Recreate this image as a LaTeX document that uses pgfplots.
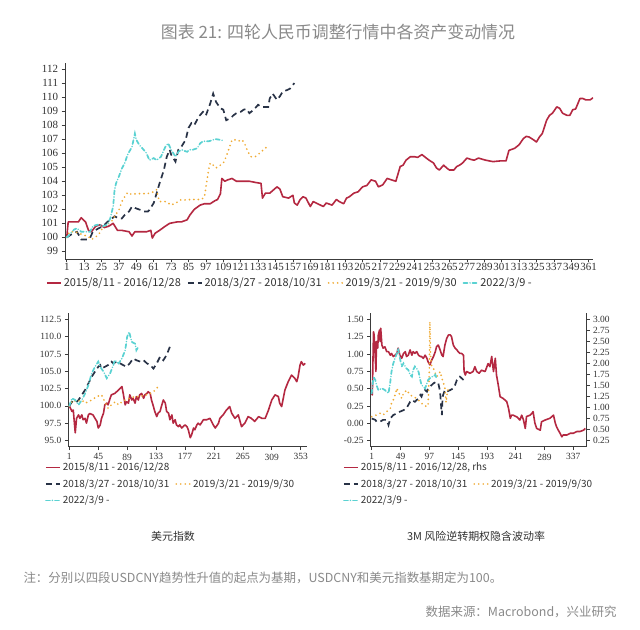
\documentclass[border=0pt]{standalone}
\usepackage{fontspec}
\setmainfont{Liberation Serif}
\newfontfamily\cjk{Noto Sans CJK SC}
\usepackage{pgfplots}
\pgfplotsset{compat=1.18}

\definecolor{usdred}{HTML}{B42841}
\definecolor{navy}{HTML}{283246}
\definecolor{gold}{HTML}{F0AA32}
\definecolor{cyanl}{HTML}{5AD2D2}
\definecolor{axisgray}{HTML}{3C3C3C}
\definecolor{notegray}{HTML}{8A8A8A}
\definecolor{txt}{HTML}{333333}

\tikzset{
  s15/.style={usdred, line width=1.6bp, line join=round},
  s18/.style={navy, line width=1.7bp, dash pattern=on 6bp off 4bp},
  s19/.style={gold, line width=1.9bp, line cap=round, dash pattern=on 0bp off 4.5bp},
  s22/.style={cyanl, line width=1.7bp, line cap=round, dash pattern=on 4bp off 2.5bp on 0bp off 2.5bp},
}

\pgfplotsset{
  base/.style={
    scale only axis,
    axis lines=left,
    axis line style={-, draw=axisgray, line width=0.7bp},
    tick align=outside,
    major tick length=3.5bp,
    tick style={axisgray, line width=0.7bp},
    /pgf/number format/assume math mode=true,
    tick label style={text=txt},
    legend cell align=left,
    legend image code/.code={\draw[##1] (0bp,0bp) -- (14bp,0bp);},
    legend style={draw=none, fill=none, inner sep=0pt, text=txt,
      /tikz/every even column/.append style={column sep=4bp}},
  },
}

\begin{document}
\begin{tikzpicture}[x=1bp,y=1bp]
\useasboundingbox (0,0) rectangle (640,630);
\fill[white] (0,0) rectangle (640,630);

\node[text=notegray, font=\cjk\fontsize{17}{20}\selectfont] at (338,598)
  {图表 21: 四轮人民币调整行情中各资产变动情况};

% ---- USDCNY
\begin{axis}[base,
  at={(65bp,371bp)}, anchor=south west, width=528bp, height=196bp,
  xmin=-0.2, xmax=364, ymin=98.46, ymax=112.43,
  xtick={1,13,...,361}, ytick={99,...,112},
  tick label style={font=\fontsize{11}{12}\selectfont},
  xticklabel style={inner sep=1pt},
  legend columns=4,
  legend style={at={(-0.036,-0.122)}, anchor=west,
    font=\cjk\fontsize{11}{13}\selectfont},
]
\addplot[s15] coordinates {
(1,100.0)(2,101.1)(6,101.1)(9,101.1)(11,101.4)(14,101.1)(16,100.5)(18,100.4)(21,100.8)(24,100.9)(27,100.7)(30,100.8)(33,101.0)(36,100.5)(39,100.5)(44,100.4)(46,100.1)(48,100.4)(52,100.4)(56,100.4)(59,100.5)(60,99.95)(62,100.3)(65,100.5)(69,100.8)(72,101.0)(77,101.1)(80,101.1)(84,101.25)(86,101.6)(89,102.0)(93,102.3)(96,102.4)(100,102.4)(103,102.6)(105,102.7)(107,103.1)(108,104.2)(110,104.0)(112,104.1)(115,104.2)(118,104.0)(123,104.0)(127,104.0)(132,103.9)(135,103.85)(136,102.8)(138,103.15)(141,103.15)(146,103.6)(148,103.45)(150,102.9)(154,102.8)(157,103.0)(158,102.45)(160,102.3)(162,102.7)(164,102.9)(166,102.8)(169,102.2)(171,102.55)(173,102.45)(176,102.3)(178,102.2)(180,102.45)(184,102.3)(187,102.7)(189,102.55)(192,102.4)(194,102.8)(196,102.9)(199,103.15)(202,103.25)(205,103.6)(208,103.7)(211,104.1)(214,104.0)(216,103.6)(219,103.75)(222,104.2)(225,104.1)(228,104.0)(231,105.05)(233,105.15)(235,105.5)(238,105.75)(241,105.75)(243,105.7)(246,105.9)(249,105.65)(251,105.5)(254,105.3)(256,104.95)(258,104.8)(261,105.15)(263,104.95)(265,104.8)(268,104.8)(270,105.05)(272,105.15)(274,105.3)(277,105.65)(280,105.55)(282,105.5)(285,105.65)(290,105.5)(295,105.4)(300,105.45)(304,105.45)(306,106.2)(310,106.35)(313,106.6)(316,107.05)(318,107.2)(320,107.15)(323,106.95)(325,106.8)(327,107.15)(329,107.4)(332,108.35)(334,108.7)(336,108.85)(339,109.3)(341,109.2)(343,108.85)(346,108.7)(348,108.7)(350,109.1)(352,109.15)(355,109.9)(357,109.9)(359,109.8)(362,109.8)(364,109.95)};
\addlegendentry{2015/8/11 - 2016/12/28}
\addplot[s18] coordinates {
(1,100.0)(4,100.2)(8,100.4)(10,100.05)(11,99.85)(15,99.85)(17,99.95)(19,100.4)(23,100.65)(26,100.8)(29,101.1)(31,101.25)(34,101.5)(37,101.35)(39,101.35)(41,101.6)(44,101.85)(46,102.2)(48,102.1)(52,101.95)(54,101.85)(57,101.85)(58,101.95)(61,102.45)(63,103.15)(65,103.85)(68,104.8)(70,105.75)(72,106.25)(73,105.9)(76,105.4)(78,106.25)(80,106.45)(83,106.95)(85,107.8)(87,108.15)(89,108.0)(92,108.6)(95,108.95)(97,108.7)(100,109.55)(102,110.25)(104,109.65)(107,109.2)(109,109.1)(111,108.35)(114,108.5)(116,108.7)(118,108.85)(121,108.95)(123,109.1)(125,109.15)(127,108.85)(130,109.1)(133,109.45)(135,109.3)(138,109.3)(140,109.3)(141,109.9)(143,110.25)(146,109.8)(148,110.05)(150,110.4)(153,110.5)(155,110.6)(158,111.0)};
\addlegendentry{2018/3/27 - 2018/10/31}
\addplot[s19] coordinates {
(1,100.0)(3,100.4)(7,100.4)(9,100.3)(12,100.2)(16,100.05)(18,99.85)(20,99.95)(23,100.2)(25,100.55)(27,100.8)(30,101.0)(32,101.15)(34,101.5)(37,101.95)(39,102.55)(41,102.9)(43,103.2)(46,103.05)(48,103.1)(50,103.1)(53,103.15)(55,103.1)(58,103.15)(61,103.25)(63,103.4)(64,102.9)(65,102.55)(69,102.55)(71,102.45)(73,102.3)(76,102.45)(78,102.55)(80,102.7)(84,102.65)(86,102.7)(88,102.7)(92,102.7)(94,102.7)(96,102.9)(97,103.6)(99,104.9)(100,105.3)(102,105.15)(104,104.95)(107,105.15)(109,105.3)(111,105.75)(113,106.35)(115,106.95)(117,106.95)(119,106.85)(122,106.95)(124,106.6)(126,106.1)(128,105.75)(131,105.75)(133,105.9)(135,106.1)(138,106.35)(140,106.6)};
\addlegendentry{2019/3/21 - 2019/9/30}
\addplot[s22] coordinates {
(1,100.0)(3,100.2)(6,100.55)(8,100.65)(11,100.4)(15,100.4)(17,100.4)(19,100.8)(22,100.9)(24,100.9)(26,100.8)(29,100.9)(31,101.35)(33,102.2)(34,103.4)(35,103.85)(37,104.35)(39,104.9)(41,105.3)(43,105.9)(46,106.45)(48,107.4)(49,106.95)(51,106.6)(54,106.25)(56,106.0)(58,105.5)(61,105.65)(63,105.5)(66,105.75)(69,106.45)(71,106.7)(73,106.25)(76,105.75)(78,106.1)(80,106.25)(84,106.1)(86,106.25)(88,106.25)(91,106.35)(93,106.7)(95,106.85)(99,106.85)(102,106.95)(104,107.0)(107,106.95)(109,106.9)};
\addlegendentry{2022/3/9 -}
\end{axis}

% ---- Dollar index
\begin{axis}[base,
  at={(68.3bp,183.3bp)}, anchor=south west, width=238.7bp, height=133.4bp,
  xmin=-0.57, xmax=362.6, ymin=94.1, ymax=113.39,
  xtick={1,45,...,353}, ytick={95,97.5,...,112.5},
  yticklabel style={/pgf/number format/.cd, fixed, fixed zerofill, precision=1},
  tick label style={font=\fontsize{9.5}{11}\selectfont},
  legend columns=2,
  legend style={at={(-0.098,-0.105)}, anchor=north west,
    font=\cjk\fontsize{10}{12}\selectfont, row sep=3bp},
]
\addplot[s15] coordinates {
(1,100.0)(5,99.2)(7,99.4)(10,96.1)(12,98.2)(15,98.7)(17,98.2)(20,98.7)(22,98.0)(25,98.2)(27,97.5)(30,98.7)(32,98.9)(37,98.7)(40,98.2)(43,97.75)(45,96.8)(48,97.25)(50,98.2)(53,98.95)(55,100.15)(58,100.4)(60,100.15)(63,101.1)(65,101.6)(70,101.8)(76,102.3)(81,102.8)(83,101.8)(86,100.15)(88,100.6)(91,100.4)(93,101.6)(96,100.85)(98,101.1)(101,100.4)(103,101.35)(106,100.85)(108,101.6)(111,101.8)(114,101.1)(116,101.6)(119,101.8)(121,102.05)(124,101.8)(126,100.85)(129,99.9)(131,99.2)(134,98.45)(136,98.95)(139,99.2)(141,99.9)(144,100.85)(147,100.4)(149,99.2)(152,98.95)(154,98.0)(157,98.7)(159,97.5)(162,98.0)(164,97.25)(167,97.0)(169,97.25)(172,96.8)(174,97.0)(177,97.25)(180,97.0)(182,96.55)(185,95.4)(187,95.8)(190,96.8)(192,96.55)(195,97.25)(197,97.5)(200,97.25)(205,98.0)(210,98.0)(215,98.2)(220,97.25)(223,96.8)(228,97.5)(230,98.2)(235,98.7)(240,99.4)(245,99.9)(248,98.95)(253,98.2)(258,98.7)(263,97.0)(268,97.5)(273,98.45)(278,98.2)(283,97.75)(289,98.45)(294,98.2)(299,98.2)(304,99.4)(309,100.85)(314,101.6)(319,101.35)(321,100.4)(324,99.9)(329,102.3)(334,103.5)(339,104.45)(344,104.0)(347,103.5)(349,104.2)(352,105.9)(354,106.4)(357,105.9)(360,106.15)};
\addlegendentry{2015/8/11 - 2016/12/28}
\addlegendimage{empty legend}
\addlegendentry{}
\addplot[s18] coordinates {
(1,100.0)(5,100.6)(10,100.4)(15,100.85)(20,101.6)(25,102.3)(30,103.25)(35,104.2)(40,104.95)(45,105.65)(48,105.9)(50,105.4)(55,105.65)(60,105.9)(65,106.4)(68,106.15)(73,106.4)(78,106.15)(83,105.9)(88,105.65)(93,106.15)(98,106.85)(103,106.6)(109,106.4)(114,106.6)(119,106.15)(124,105.9)(129,105.4)(134,106.15)(139,107.1)(144,106.6)(149,107.35)(154,108.55)};
\addlegendentry{2018/3/27 - 2018/10/31}
\addplot[s19] coordinates {
(1,100.0)(7,100.85)(12,100.6)(20,100.85)(25,100.4)(30,100.6)(35,100.85)(43,101.35)(50,101.6)(55,100.6)(60,99.65)(65,100.15)(71,100.6)(76,100.15)(81,100.6)(86,100.85)(93,101.1)(101,101.35)(109,101.35)(116,101.6)(121,101.6)(124,101.8)(129,102.05)(134,102.55)(136,102.8)};
\addlegendentry{2019/3/21 - 2019/9/30}
\addplot[s22] coordinates {
(1,100.0)(5,101.1)(10,100.85)(15,100.15)(20,100.85)(25,101.8)(30,103.0)(35,104.7)(40,105.65)(45,106.4)(48,105.65)(53,104.95)(58,104.0)(63,104.7)(68,105.9)(70,106.6)(76,106.15)(81,106.85)(86,108.05)(89,110.0)(92,110.7)(96,109.25)(101,109.0)(103,108.05)(106,108.55)};
\addlegendentry{2022/3/9 -}
\end{axis}

% ---- 3M risk reversal: right axis (rhs)
\begin{axis}[base,
  at={(370.7bp,183.3bp)}, anchor=south west, width=215.3bp, height=133.4bp,
  xmin=-0.67, xmax=358.2, ymin=0.106, ymax=3.13,
  axis x line=none, axis y line*=right,
  ytick={0.25,0.5,...,3.0},
  yticklabel style={/pgf/number format/.cd, fixed, fixed zerofill, precision=2},
  tick label style={font=\fontsize{9.5}{11}\selectfont},
]
\addplot[s15] coordinates {
(1,1.3)(2,1.28)(4,2.71)(5,2.64)(7,2.11)(8,1.81)(9,2.49)(11,2.34)(12,2.64)(14,2.75)(15,2.49)(16,2.79)(18,2.41)(20,2.34)(23,2.37)(26,2.26)(29,2.26)(32,2.18)(34,2.22)(37,2.15)(40,2.18)(43,2.22)(45,2.34)(48,2.18)(51,2.11)(54,2.22)(57,2.26)(59,2.15)(62,2.18)(65,2.30)(68,2.18)(70,2.26)(73,2.22)(76,2.26)(79,2.18)(82,2.15)(84,2.15)(87,2.11)(90,2.18)(93,2.11)(95,2.03)(98,1.96)(101,2.07)(104,2.15)(107,2.26)(109,2.37)(112,2.41)(115,2.30)(118,2.18)(120,2.15)(123,2.41)(126,2.56)(129,2.64)(132,2.64)(134,2.60)(137,2.41)(140,2.34)(143,2.30)(145,2.26)(148,2.22)(151,2.22)(154,2.18)(155,1.81)(157,1.73)(159,1.81)(165,1.77)(170,1.81)(173,1.92)(176,1.81)(180,1.77)(184,1.84)(190,1.81)(195,1.99)(198,1.92)(201,2.15)(204,1.81)(207,2.11)(209,1.73)(212,1.50)(215,1.24)(220,1.20)(226,1.13)(229,0.98)(232,0.75)(234,0.82)(237,0.82)(243,0.78)(248,0.71)(251,0.82)(254,0.71)(257,0.52)(259,0.79)(265,0.82)(268,0.86)(270,0.90)(273,0.64)(276,0.52)(282,0.48)(284,0.67)(290,0.71)(298,0.75)(304,0.82)(307,0.64)(309,0.56)(312,0.48)(315,0.41)(318,0.33)(320,0.37)(326,0.37)(332,0.41)(337,0.41)(343,0.45)(348,0.45)(354,0.48)(357,0.52)};
\end{axis}

% ---- 3M risk reversal: left axis
\begin{axis}[base,
  at={(370.7bp,183.3bp)}, anchor=south west, width=215.3bp, height=133.4bp,
  xmin=-0.67, xmax=358.2, ymin=-0.337, ymax=1.587,
  axis x line*=bottom, axis y line*=left,
  xtick={1,49,...,337}, ytick={-0.25,0,...,1.5},
  yticklabel style={/pgf/number format/.cd, fixed, fixed zerofill, precision=2},
  tick label style={font=\fontsize{9.5}{11}\selectfont},
  legend columns=2,
  legend style={at={(-0.129,-0.105)}, anchor=north west,
    font=\cjk\fontsize{10}{12}\selectfont, row sep=3bp},
]
\addlegendimage{s15}
\addlegendentry{\makebox[0pt][l]{2015/8/11 - 2016/12/28, rhs}}
\addlegendimage{empty legend}
\addlegendentry{}
\addplot[s18] coordinates {
(1,0.07)(7,0.05)(9,0.024)(15,0.024)(20,0.05)(26,0.05)(29,-0.024)(32,0.07)(37,0.12)(43,0.144)(48,0.168)(54,0.19)(59,0.216)(62,0.264)(65,0.31)(68,0.337)(73,0.31)(76,0.337)(79,0.36)(82,0.41)(84,0.385)(87,0.457)(90,0.48)(93,0.457)(95,0.505)(98,0.53)(101,0.553)(104,0.577)(109,0.60)(112,0.577)(115,0.457)(117,0.216)(118,0.12)(119,0.36)(120,0.41)(123,0.48)(126,0.457)(132,0.48)(137,0.505)(140,0.553)(143,0.625)(148,0.673)(151,0.65)(154,0.625)};
\addlegendentry{2018/3/27 - 2018/10/31}
\addplot[s19] coordinates {
(1,0.096)(9,0.12)(15,0.144)(20,0.12)(26,0.168)(32,0.216)(34,0.29)(37,0.337)(40,0.41)(43,0.505)(45,0.457)(48,0.41)(51,0.36)(54,0.433)(57,0.457)(59,0.48)(65,0.41)(70,0.385)(76,0.36)(82,0.31)(87,0.264)(93,0.24)(95,0.264)(97,0.745)(98,1.466)(99,0.986)(101,0.817)(104,0.793)(107,0.72)(109,0.673)(112,0.70)(115,0.745)(118,0.65)(120,0.60)(123,0.505)(125,0.30)(127,0.45)(129,0.505)};
\addlegendentry{2019/3/21 - 2019/9/30}
\addplot[s22] coordinates {
(1,0.43)(4,0.673)(7,0.625)(9,0.553)(12,0.48)(18,0.505)(23,0.48)(29,0.433)(32,0.60)(34,0.745)(37,0.865)(40,0.94)(43,1.01)(45,1.08)(48,0.94)(51,0.82)(54,0.865)(57,0.82)(59,0.79)(62,0.77)(65,0.70)(68,0.673)(70,0.77)(73,0.82)(76,0.79)(79,0.745)(82,0.625)(84,0.553)(87,0.53)(90,0.505)(93,0.577)(95,0.625)(98,0.65)(101,0.673)(104,0.673)(107,0.70)(109,0.65)};
\addlegendentry{2022/3/9 -}
\end{axis}

\node[text=txt, font=\cjk\fontsize{11}{13}\selectfont] at (173,94) {美元指数};
\node[text=txt, font=\cjk\fontsize{11}{13}\selectfont] at (476,94) {3M 风险逆转期权隐含波动率};
\node[text=notegray, anchor=west, font=\cjk\fontsize{12.5}{15}\selectfont] at (20,52)
  {注：分别以四段USDCNY趋势性升值的起点为基期，USDCNY和美元指数基期定为100。};
\node[text=notegray, anchor=east, font=\cjk\fontsize{12.5}{15}\selectfont] at (620,18)
  {数据来源：Macrobond，兴业研究};
\end{tikzpicture}
\end{document}
